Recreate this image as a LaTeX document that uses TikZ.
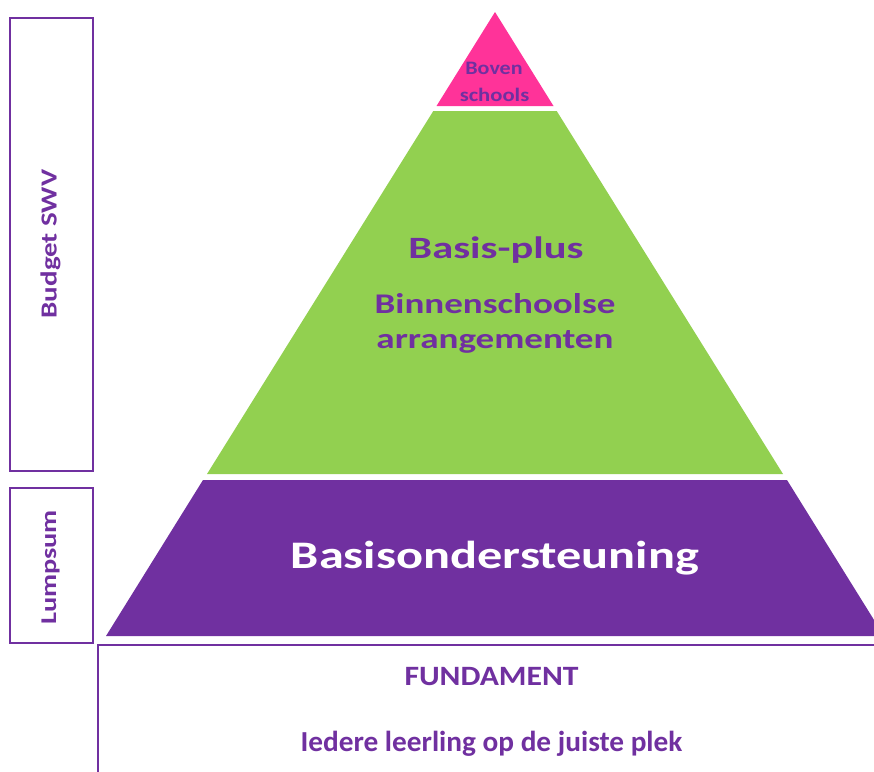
\documentclass[tikz,border=0pt]{standalone}
\usepackage{fontspec}
\usepackage{graphicx}
\setmainfont{Carlito}
\definecolor{pur}{HTML}{7030A0}
\definecolor{grn}{HTML}{92D050}
\definecolor{pnk}{HTML}{FF3399}
\newcommand{\fs}[1]{\fontsize{#1}{#1}\selectfont}
\begin{document}
\begin{tikzpicture}[x=1pt,y=-1pt,
  frame/.style={draw=pur,line width=2pt},
  lbl/.style={text=pur,font=\bfseries,inner sep=0pt,anchor=base},
]
\useasboundingbox (0,0) rectangle (874,771);
\clip (0,0) rectangle (874,771);
% layers
\fill[pnk] (495,12) -- (553.5,106) -- (436.5,106) -- cycle;
\fill[grn] (433.3,111) -- (556.7,111) -- (783,474) -- (207,474) -- cycle;
\fill[pur] (203,480) -- (787,480) -- (884,636) -- (106,636) -- cycle;
% frames
\draw[frame] (10,18) rectangle (92.5,470.5);
\draw[frame] (10,488) rectangle (92.5,643);
\draw[frame] (98,900) -- (98,645) -- (900,645);
% texts
\node[lbl,font=\bfseries\fs{19}] (boven) at (494,74) {\scalebox{1.16}[1]{Boven}};
\node[lbl,font=\bfseries\fs{19}] (schools) at (494.5,101.5) {\scalebox{1.19}[1]{schools}};
\node[lbl,font=\bfseries\fs{31}] (bp) at (496,258.3) {\scalebox{1.37}[1]{Basis-plus}};
\node[lbl,font=\bfseries\fs{28.5}] (bin) at (495,313.3) {\scalebox{1.30}[1]{Binnenschoolse}};
\node[lbl,font=\bfseries\fs{28.5}] (arr) at (495,348) {\scalebox{1.30}[1]{arrangementen}};
\node[lbl,text=white,font=\bfseries\fs{39}] (bo) at (494.8,568.3) {\scalebox{1.29}[1]{Basisondersteuning}};
\node[lbl,font=\bfseries\fs{28}] (fund) at (491.5,685) {\scalebox{1.13}[1]{FUNDAMENT}};
\node[lbl,font=\bfseries\fs{29}] (ied) at (491.5,751.7) {\scalebox{1.01}[1]{Iedere leerling op de juiste plek}};
\node[lbl,font=\bfseries\fs{23},rotate=90] (bud) at (56.7,244) {\scalebox{1.26}[1]{Budget SWV}};
\node[lbl,font=\bfseries\fs{22.5},rotate=90] (lump) at (56,567.5) {\scalebox{1.26}[1]{Lumpsum}};
\end{tikzpicture}
\end{document}
